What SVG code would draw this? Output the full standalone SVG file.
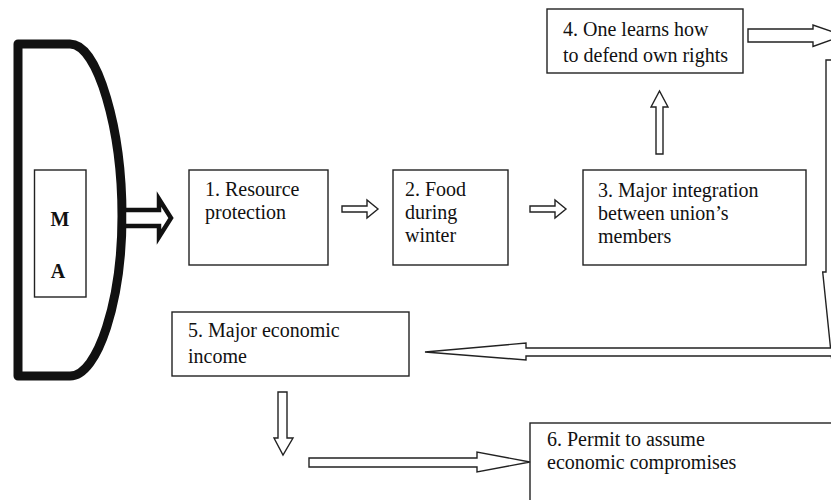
<svg xmlns="http://www.w3.org/2000/svg" width="831" height="500" viewBox="0 0 831 500">
<style>
.box{fill:#fff;stroke:#222;stroke-width:1.4}
.arr{fill:#fff;stroke:#222;stroke-width:1.4;stroke-linejoin:miter}
.t{font-family:"Liberation Serif","Times New Roman",serif;font-size:20px;fill:#111}
.b{font-family:"Liberation Serif","Times New Roman",serif;font-size:20px;font-weight:bold;fill:#111;text-anchor:middle}
</style>
<rect width="831" height="500" fill="#fff"/>
<g id="ma">
<path d="M18,44 H70 C98,44 122,130 122,216 C122,300 98,376 70,376 H18 Z" fill="#fff" stroke="#111" stroke-width="9" stroke-linejoin="round"/>
<rect class="box" x="34.5" y="170" width="51.5" height="127"/>
<text class="b" x="60" y="226">M</text>
<text class="b" x="58" y="278">A</text>
</g>
<g id="n1">
<rect class="box" x="189" y="170" width="139" height="95"/>
<text class="t" x="205" y="196">1. Resource</text>
<text class="t" x="205" y="219">protection</text>
</g>
<g id="n2">
<rect class="box" x="393" y="170" width="115" height="95"/>
<text class="t" x="405" y="196">2. Food</text>
<text class="t" x="405" y="219">during</text>
<text class="t" x="405" y="242">winter</text>
</g>
<g id="n3">
<rect class="box" x="583" y="170" width="223" height="95"/>
<text class="t" x="598" y="197">3. Major integration</text>
<text class="t" x="598" y="220">between union’s</text>
<text class="t" x="598" y="243">members</text>
</g>
<g id="n4">
<rect class="box" x="547" y="9" width="196" height="64"/>
<text class="t" x="563" y="36">4. One learns how</text>
<text class="t" x="563" y="62">to defend own rights</text>
</g>
<g id="n5">
<rect class="box" x="172" y="312" width="237" height="64"/>
<text class="t" x="188" y="337">5. Major economic</text>
<text class="t" x="188" y="363">income</text>
</g>
<g id="n6">
<rect class="box" x="530" y="423" width="340" height="120"/>
<text class="t" x="547" y="446">6. Permit to assume</text>
<text class="t" x="547" y="469">economic compromises</text>
</g>
<g id="connectors">
<polygon points="124,210 159,210 159,199 171,218 159,237 159,226 124,226" fill="#fff" stroke="#111" stroke-width="4.5" stroke-linejoin="miter"/>
<polygon class="arr" points="342,206 367,206 367,200 378,209 367,218 367,212 342,212"/>
<polygon class="arr" points="530,206 555,206 555,200 566,209 555,218 555,212 530,212"/>
<polygon class="arr" points="656,154 656,107 651,107 659.5,91 668,107 663,107 663,154"/>
<polygon class="arr" points="748,29 813,29 813,25 843,35.5 813,46.5 813,42 748,42"/>
<polygon class="arr" points="826,60 850,60 850,272 855,272 833,372 822.7,272 826,272"/>
<polygon class="arr" points="850,348 526,348 526,343 425,352 526,360 526,356 850,356"/>
<polygon class="arr" points="278,392 287,392 287,438 293,438 283,455 274,438 278,438"/>
<polygon class="arr" points="309,458 477,458 477,452 530,462 477,472 477,467 309,467"/>
</g>
</svg>
